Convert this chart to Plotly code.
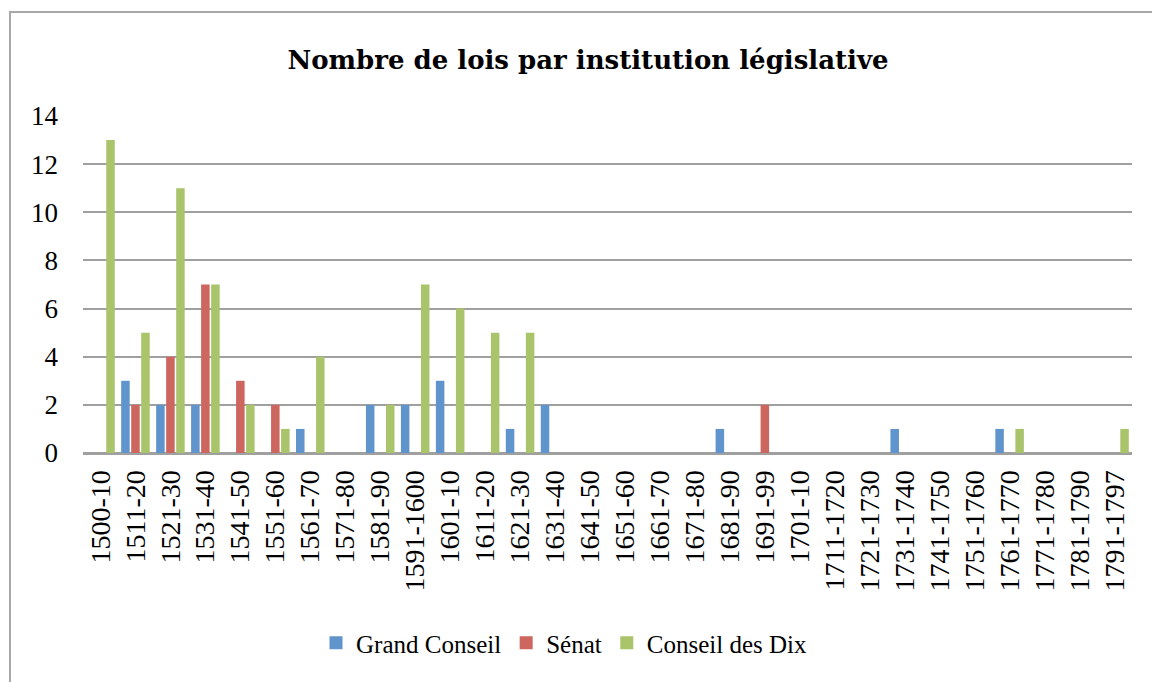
import plotly.graph_objects as go

categories = ["1500-10", "1511-20", "1521-30", "1531-40", "1541-50", "1551-60", "1561-70",
              "1571-80", "1581-90", "1591-1600", "1601-10", "1611-20", "1621-30", "1631-40",
              "1641-50", "1651-60", "1661-70", "1671-80", "1681-90", "1691-99", "1701-10",
              "1711-1720", "1721-1730", "1731-1740", "1741-1750", "1751-1760", "1761-1770",
              "1771-1780", "1781-1790", "1791-1797"]

grand_conseil = [0, 3, 2, 2, 0, 0, 1, 0, 2, 2, 3, 0, 1, 2, 0, 0, 0, 0, 1, 0,
                 0, 0, 0, 1, 0, 0, 1, 0, 0, 0]
senat = [0, 2, 4, 7, 3, 2, 0, 0, 0, 0, 0, 0, 0, 0, 0, 0, 0, 0, 0, 2,
         0, 0, 0, 0, 0, 0, 0, 0, 0, 0]
conseil_dix = [13, 5, 11, 7, 2, 1, 4, 0, 2, 7, 6, 5, 5, 0, 0, 0, 0, 0, 0, 0,
               0, 0, 0, 0, 0, 0, 1, 0, 0, 1]

series_names = ["Grand Conseil", "Sénat", "Conseil des Dix"]
colors = ["#6094CC", "#CD665E", "#AAC46C"]

FONT = "Liberation Serif"

fig = go.Figure()
for name, vals, col in zip(series_names, [grand_conseil, senat, conseil_dix], colors):
    fig.add_trace(go.Bar(
        x=categories, y=vals, name=name, showlegend=False,
        marker=dict(color=col, line=dict(width=0)),
    ))
# legend entries with square swatches
for name, col in zip(series_names, colors):
    fig.add_trace(go.Scatter(
        x=[None], y=[None], mode="markers", name=name,
        marker=dict(symbol="square", size=13, color=col),
    ))

W, H = 1152, 682
ml, mr, mt, mb = 83, 20, 116, 229
ph = H - mt - mb
pw = W - ml - mr

def px_x(p):
    return (p - ml) / pw

def px_y(p):
    return (H - mb - p) / ph

fig.update_layout(
    width=W, height=H,
    margin=dict(l=ml, r=mr, t=mt, b=mb, autoexpand=False),
    paper_bgcolor="white", plot_bgcolor="white",
    barmode="group", bargap=0.14, bargroupgap=0.15,
    font=dict(family=FONT, color="black", size=26),
    title=dict(
        text="<b>Nombre de lois par institution législative</b>",
        font=dict(family="DejaVu Serif", size=26, color="black"),
        x=588 / W, xanchor="center", xref="container",
        y=1 - 60 / H, yanchor="middle", yref="container",
    ),
    showlegend=True,
    legend=dict(
        orientation="h",
        xref="container", yref="container",
        x=564 / W, xanchor="center",
        y=1 - 643 / H, yanchor="middle",
        font=dict(family=FONT, size=25, color="black"),
        itemwidth=30,
        tracegroupgap=0,
    ),
    xaxis=dict(
        type="category",
        tickangle=-90,
        tickfont=dict(family=FONT, size=28, color="black"),
        showline=True, linecolor="#A0A0A0", linewidth=2,
        showgrid=False,
        ticks="", ticklabelstandoff=4,
    ),
    yaxis=dict(
        range=[0, 14], dtick=2,
        tickfont=dict(family=FONT, size=27, color="black"),
        showgrid=True, gridcolor="#A0A0A0", gridwidth=2,
        zeroline=True, zerolinecolor="#A0A0A0", zerolinewidth=2,
        ticks="", ticklabelstandoff=24,
    ),
    shapes=[
        dict(type="path", xref="paper", yref="paper",
             path=f"M {px_x(1160)} {px_y(12)} L {px_x(10)} {px_y(12)} L {px_x(10)} {px_y(700)}",
             line=dict(color="#A8A8A8", width=2), layer="below"),
    ],
)

fig.write_html("out.html", config={"displayModeBar": False},
               post_script="document.body.style.margin='0';")
